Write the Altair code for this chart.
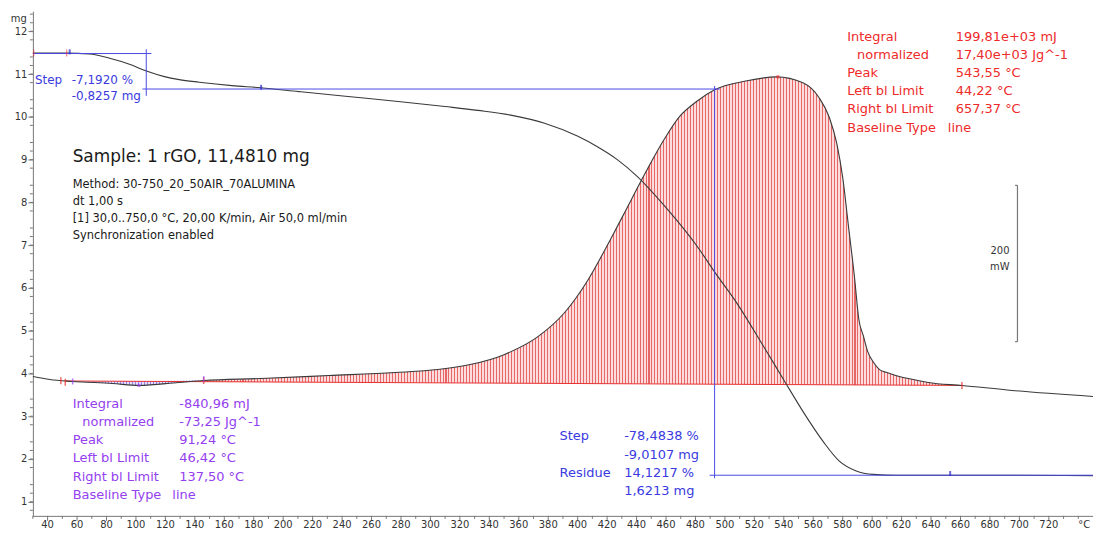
import altair as alt
import pandas as pd

# ---------------- data ----------------
# TGA curve: temperature (°C) and mass (mg)
tga_T = [30, 53, 68.5, 82.1, 95.6, 107.1, 119.3, 129.4, 142.9, 165.2, 184.8, 210.5, 242.3,
         278.1, 309.9, 332.2, 354.5, 377.5, 399.8, 413.4, 426.9, 440.4, 458.7, 481, 493.1,
         508, 526.3, 539.8, 553.4, 566.9, 577.7, 589.2, 600.7, 616.2, 650, 683.8, 750]
tga_mg = [11.49, 11.49, 11.47, 11.37, 11.23, 11.07, 10.94, 10.87, 10.81, 10.73, 10.68, 10.59,
          10.48, 10.36, 10.24, 10.15, 10.04, 9.85, 9.55, 9.30, 9.00, 8.61, 7.93, 6.98, 6.37,
          5.65, 4.63, 3.86, 3.09, 2.40, 1.95, 1.72, 1.64, 1.62, 1.62, 1.62, 1.61]

# DSC curve: temperature (°C) and heat flow (mW, exo up, arbitrary zero)
dsc_T = [30, 41.5, 57, 84, 102, 129, 146, 185, 231, 276, 305, 327, 350, 373, 391, 407, 422,
         432, 440, 447, 459, 469, 481, 493, 515, 535, 553, 564, 571, 576, 580, 584, 588, 591,
         594, 597, 601, 605, 610, 621, 628, 638, 661, 695, 750]
dsc_mW = [3.8, 0.0, -2.5, -5.1, -7.6, -3.8, -1.3, 1.3, 5.1, 8.9, 12.7, 19.1, 31.8, 54.8, 85.4,
          127.4, 178.3, 214.0, 243.0, 268.0, 308.0, 336.0, 356.0, 370.7, 382.2, 387.3, 379.6,
          360.5, 335.0, 301.9, 258.6, 194.9, 131.2, 76.4, 56.1, 35.7, 21.7, 12.7, 8.9, 2.5,
          0.0, -3.8, -7.6, -14.0, -21.7]

# integration baselines (limits)
red_bl_T = [52, 661]
red_bl_mW = [-1.9, -7.6]
pur_bl_T = [57, 146]
pur_bl_mW = [-2.5, -1.3]

# TGA step annotation values
step1_mg = [11.48, 10.65]
step1_T = 107
step2_mg = [10.65, 1.62]
step2_T = 493

# scale bar (mW)
bar_mW = [48.4, 248.4]
bar_T = 698.7

# evaluation texts
red_lab = ["Integral", "normalized", "Peak", "Left bl Limit", "Right bl Limit", "Baseline Type"]
red_val = ["199,81e+03 mJ", "17,40e+03 Jg^-1", "543,55 °C", "44,22 °C", "657,37 °C", "line"]
pur_lab = ["Integral", "normalized", "Peak", "Left bl Limit", "Right bl Limit", "Baseline Type"]
pur_val = ["-840,96 mJ", "-73,25 Jg^-1", "91,24 °C", "46,42 °C", "137,50 °C", "line"]
blue2_lab = ["Step", "", "Residue", ""]
blue2_val = ["-78,4838 %", "-9,0107 mg", "14,1217 %", "1,6213 mg"]
blue1_val = ["-7,1920 %", "-0,8257 mg"]
info_lines = ["Method: 30-750_20_50AIR_70ALUMINA", "dt 1,00 s",
              "[1] 30,0..750,0 °C, 20,00 K/min, Air 50,0 ml/min", "Synchronization enabled"]
sample_title = "Sample: 1 rGO, 11,4810 mg"

# axis ticks
x_major = list(range(40, 721, 20))
x_labels = [str(v) for v in x_major]
x_minor = list(range(30, 740, 20)) + [740]
y_major = list(range(1, 13))
y_minor = [round(0.8 + 0.2 * i, 1) for i in range(59) if (i + 1) % 5 != 0]

# ---------------- styling ----------------
FONT = "DejaVu Sans"
RED = "#ee2a2a"
PURPLE = "#9440f0"
BLUE = "#3a3ae0"
INK = "#1a1a1a"
CURVE = "#3a3a3a"
AXIS = "#777"

X_DOM = [30, 750]
Y_DOM = [0.67, 12.47]
D_DOM = [-174.5, 471.3]
W, H = 1065, 507

xs = alt.Scale(domain=X_DOM, nice=False, zero=False)
ys = alt.Scale(domain=Y_DOM, nice=False, zero=False)
ds = alt.Scale(domain=D_DOM, nice=False, zero=False)


def stripes(c1, c2, n, frac=0.34):
    stops = []
    for i in range(n):
        a = i / n
        b = (i + frac) / n
        c = (i + 1) / n
        stops += [alt.GradientStop(color=c1, offset=a), alt.GradientStop(color=c1, offset=b),
                  alt.GradientStop(color=c2, offset=b), alt.GradientStop(color=c2, offset=c)]
    return alt.Gradient(gradient="linear", stops=stops, x1=0, x2=1, y1=0, y2=0)


def xq(field="T"):
    return alt.X(f"{field}:Q", scale=xs, axis=None)


def yq(field, scale):
    return alt.Y(f"{field}:Q", scale=scale, axis=None)


dsc_df = pd.DataFrame({"T": dsc_T, "mW": dsc_mW})
tga_df = pd.DataFrame({"T": tga_T, "mg": tga_mg})

r0T, r1T = red_bl_T
r0, r1 = red_bl_mW
p0T, p1T = pur_bl_T
p0, p1 = pur_bl_mW

red_area = alt.Chart(dsc_df).transform_filter(
    f"datum.T >= {p1T} && datum.T <= {r1T}"
).transform_calculate(
    bl=f"{r0} + (datum.T - {r0T}) * ({r1} - {r0}) / ({r1T} - {r0T})"
).mark_area(interpolate="monotone", fill=stripes("#e86868", "#fcdcdc", 254)).encode(
    x=xq(), y=yq("mW", ds), y2="bl:Q")

pur_area = alt.Chart(dsc_df).transform_filter(
    f"datum.T >= {p0T} && datum.T <= {p1T}"
).transform_calculate(
    bl=f"{p0} + (datum.T - {p0T}) * ({p1} - {p0}) / ({p1T} - {p0T})"
).mark_area(interpolate="monotone", fill=stripes("#9a80ec", "#e6e0fb", 44)).encode(
    x=xq(), y=yq("mW", ds), y2="bl:Q")

red_bl = alt.Chart(pd.DataFrame({"T": red_bl_T, "mW": red_bl_mW})).mark_line(
    color="#e83030", strokeWidth=1).encode(x=xq(), y=yq("mW", ds))

dsc_line = alt.Chart(dsc_df).mark_line(color=CURVE, strokeWidth=1.1, interpolate="monotone").encode(
    x=xq(), y=yq("mW", ds))

y_axis = alt.Axis(values=y_major, title=None, grid=False, tickSize=5, format="d",
                  domainColor=AXIS, tickColor=AXIS, labelColor="#333", labelFont=FONT,
                  labelFontSize=10, labelPadding=1, labelOverlap=False, labelFlush=False)

tga_line = alt.Chart(tga_df).mark_line(color=CURVE, strokeWidth=1.1, interpolate="monotone").encode(
    x=xq(), y=alt.Y("mg:Q", scale=ys, axis=y_axis))

# x axis drawn through the x scale: domain line, ticks and labels
x_domain_line = alt.Chart(pd.DataFrame({"T": X_DOM[:1], "T2": X_DOM[1:]})).mark_rule(
    color=AXIS, strokeWidth=1).encode(x=xq(), x2="T2:Q", y=alt.value(H + 0.5))
x_major_ticks = alt.Chart(pd.DataFrame({"T": x_major})).mark_rule(color=AXIS, strokeWidth=1).encode(
    x=xq(), y=alt.value(H), y2=alt.value(H + 5))
x_minor_ticks = alt.Chart(pd.DataFrame({"T": x_minor})).mark_rule(color=AXIS, strokeWidth=1).encode(
    x=xq(), y=alt.value(H), y2=alt.value(H + 3))
x_tick_labels = alt.Chart(pd.DataFrame({"T": x_major + [744.0], "t": x_labels + ["°C"]})).mark_text(
    align="center", baseline="alphabetic", font=FONT, fontSize=10, color="#333").encode(
    x=xq(), y=alt.value(H + 12.5), text="t:N")
y_minor_ticks = alt.Chart(pd.DataFrame({"mg": y_minor})).mark_rule(color=AXIS, strokeWidth=1).encode(
    y=yq("mg", ys), x=alt.value(0), x2=alt.value(-3))

# blue step construction lines (in TGA units)
steps_df = pd.DataFrame({
    "T": [30, step1_T, step1_T - 2.6, step2_T, step2_T - 3.4],
    "T2": [110.5, step1_T, 496.5, step2_T, 750],
    "mg": [step1_mg[0], step1_mg[0] + 0.1, step1_mg[1], step1_mg[0] - 0.76, step2_mg[1]],
    "mg2": [step1_mg[0], step1_mg[1] - 0.16, step1_mg[1], step2_mg[1] - 0.07, step2_mg[1]],
})
step_rules = alt.Chart(steps_df).mark_rule(color="#4a4ae6", strokeWidth=1).encode(
    x=xq(), x2="T2:Q", y=yq("mg", ys), y2="mg2:Q")

# scale bar
bar_df = pd.DataFrame({"T": [bar_T, bar_T - 1.6, bar_T - 1.6], "T2": [bar_T, bar_T, bar_T],
                       "mW": [bar_mW[0], bar_mW[0], bar_mW[1]], "mW2": [bar_mW[1], bar_mW[0], bar_mW[1]]})
bar = alt.Chart(bar_df).mark_rule(color="#777", strokeWidth=1.2).encode(
    x=xq(), x2="T2:Q", y=yq("mW", ds), y2="mW2:Q")

# small markers
m_tga_red = alt.Chart(pd.DataFrame({"T": [30.6, 53], "mg": [11.49, 11.49]})).mark_tick(
    color=RED, orient="vertical", size=7, thickness=1).encode(x=xq(), y=yq("mg", ys))
m_tga_blue = alt.Chart(pd.DataFrame({"T": [55, 185, 653], "mg": [11.52, 10.69, 1.66]})).mark_tick(
    color="#2a2ad0", orient="vertical", size=5, thickness=2).encode(x=xq(), y=yq("mg", ys))
m_dsc_red = alt.Chart(pd.DataFrame({"T": [49, 52, 146, 661], "mW": [-1.5, -3.5, -1.3, -7.6]})).mark_tick(
    color=RED, orient="vertical", size=7, thickness=1.5).encode(x=xq(), y=yq("mW", ds))
m_dsc_pur = alt.Chart(pd.DataFrame({"T": [57, 146], "mW": [-2.5, 0.5]})).mark_tick(
    color=PURPLE, orient="vertical", size=6, thickness=1.5).encode(x=xq(), y=yq("mW", ds))
m_peak = alt.Chart(pd.DataFrame({"T": [536, 102], "mW": [387.3, -7.6], "c": ["r", "p"]})).mark_point(
    shape="cross", angle=45, size=14, filled=True).encode(
    x=xq(), y=yq("mW", ds),
    color=alt.Color("c:N", scale=alt.Scale(domain=["r", "p"], range=[RED, PURPLE]), legend=None))


def texts(T, mg, labels, color, size, align="left"):
    df = pd.DataFrame({"T": T, "mg": mg, "t": labels})
    return alt.Chart(df).mark_text(align=align, baseline="middle", font=FONT, fontSize=size,
                                   color=color).encode(x=xq(), y=yq("mg", ys), text="t:N")


red_rows = [11.86, 11.44, 11.02, 10.60, 10.19, 9.74]
pur_rows = [3.28, 2.86, 2.44, 2.02, 1.58, 1.16]
t_red_lab = texts([583.1, 589.8, 583.1, 583.1, 583.1, 583.1], red_rows, red_lab, RED, 13)
t_red_val = texts([656.8] * 5 + [651.4], red_rows, red_val, RED, 13)
t_pur_lab = texts([57, 63.6, 57, 57, 57, 57], pur_rows, pur_lab, PURPLE, 13)
t_pur_val = texts([129.4] * 5 + [124.7], pur_rows, pur_val, PURPLE, 13)
b2_rows = [2.535, 2.093, 1.674, 1.256]
t_b2_lab = texts([387.7] * 4, b2_rows, blue2_lab, BLUE, 13)
t_b2_val = texts([431.6] * 4, b2_rows, blue2_val, BLUE, 13)
t_b1_lab = texts([31.4], [10.86], ["Step"], BLUE, 12)
t_b1_val = texts([56.4, 56.4], [10.86, 10.49], blue1_val, BLUE, 12)
t_sample = texts([57], [9.05], [sample_title], INK, 17)
t_info = texts([57] * 4, [8.40, 8.0, 7.6, 7.21], info_lines, INK, 11.5)
t_bar = texts([693.3, 693.3], [6.86, 6.49], ["200", "mW"], "#333", 10, align="right")
t_mg = texts([25.9], [12.28], ["mg"], "#333", 10, align="right")

chart = alt.layer(
    red_area, pur_area, red_bl, dsc_line, tga_line,
    x_domain_line, x_major_ticks, x_minor_ticks, x_tick_labels, y_minor_ticks,
    step_rules, bar,
    m_tga_red, m_tga_blue, m_dsc_red, m_dsc_pur, m_peak,
    t_red_lab, t_red_val, t_pur_lab, t_pur_val, t_b2_lab, t_b2_val, t_b1_lab, t_b1_val,
    t_sample, t_info, t_bar, t_mg,
).resolve_scale(y="independent").properties(
    width=W, height=H,
    autosize=alt.AutoSizeParams(type="none"),
    padding={"left": 25, "top": 2, "right": 0, "bottom": 13},
    background="white",
).configure_view(stroke=None)

chart.save("out.html", embed_options={"renderer": "svg", "actions": False})
